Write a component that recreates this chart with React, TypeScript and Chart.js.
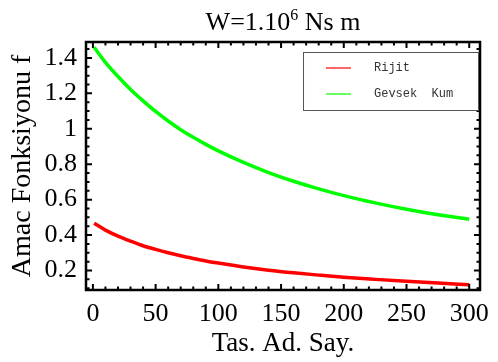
import React, { useEffect, useRef } from 'react';
import { Chart, registerables } from 'chart.js';

Chart.register(...registerables);

const xValues = [1, 10, 20, 30, 40, 50, 60, 70, 80, 90, 100, 120, 140, 160, 180, 200, 225, 250, 275, 300];
const rijitValues = [0.467, 0.428, 0.394, 0.366, 0.34, 0.319, 0.3, 0.283, 0.268, 0.254, 0.242, 0.22, 0.202, 0.187, 0.174, 0.162, 0.15, 0.139, 0.129, 0.12];
const gevsekValues = [1.46, 1.375, 1.295, 1.222, 1.158, 1.098, 1.044, 0.995, 0.952, 0.912, 0.875, 0.81, 0.753, 0.704, 0.661, 0.623, 0.582, 0.546, 0.515, 0.49];
const seriesLabels = ['Rijit', 'Gevsek  Kum'];
const seriesColors = ['#ff0000', '#00ff00'];
const xTicks = [0, 50, 100, 150, 200, 250, 300];
const yTicks = [0.2, 0.4, 0.6, 0.8, 1, 1.2, 1.4];
const yTickLabels = ['0.2', '0.4', '0.6', '0.8', '1', '1.2', '1.4'];
const titleMain = 'W=1.10';
const titleSup = '6';
const titleRest = ' Ns m';
const xTitle = 'Tas. Ad. Say.';
const yTitle = 'Amac Fonksiyonu f';

const SERIF = '"Liberation Serif", "Times New Roman", serif';

const framePlugin = {
  id: 'frame',
  afterDatasetsDraw(chart: any) {
    const { ctx, chartArea, scales } = chart;
    const { left, right, top, bottom } = chartArea;
    const xs = scales.x;
    const ys = scales.y;
    ctx.save();
    ctx.strokeStyle = '#000';
    ctx.lineWidth = 2;
    const xStep = (xTicks[1] - xTicks[0]) / 5;
    for (let i = -5; i <= (xTicks.length - 1) * 5 + 5; i++) {
      const v = xTicks[0] + i * xStep;
      if (v < xs.min || v > xs.max) continue;
      const px = xs.getPixelForValue(v);
      const len = i % 5 === 0 ? 6 : 3.5;
      ctx.beginPath();
      ctx.moveTo(px, bottom);
      ctx.lineTo(px, bottom - len);
      ctx.moveTo(px, top);
      ctx.lineTo(px, top + len);
      ctx.stroke();
    }
    const yStep = (yTicks[1] - yTicks[0]) / 4;
    for (let i = -4; i <= (yTicks.length - 1) * 4 + 4; i++) {
      const v = yTicks[0] + i * yStep;
      if (v < ys.min || v > ys.max) continue;
      const py = ys.getPixelForValue(v);
      const len = i % 4 === 0 ? 6 : 3.5;
      ctx.beginPath();
      ctx.moveTo(left, py);
      ctx.lineTo(left + len, py);
      ctx.moveTo(right, py);
      ctx.lineTo(right - len, py);
      ctx.stroke();
    }
    ctx.lineWidth = 2.5;
    ctx.strokeRect(left, top, right - left, bottom - top);

    // legend
    const bw = 175;
    const bh = 58;
    const bx = right - bw - 2;
    const by = top + 10;
    ctx.fillStyle = '#fff';
    ctx.fillRect(bx, by, bw, bh);
    ctx.lineWidth = 1;
    ctx.strokeStyle = '#555';
    ctx.strokeRect(bx + 0.5, by + 0.5, bw, bh);
    ctx.font = '12px "Liberation Mono", "Courier New", monospace';
    ctx.textBaseline = 'middle';
    ctx.textAlign = 'left';
    chart.data.datasets.forEach((ds: any, i: number) => {
      const ry = by + 16 + i * 26;
      ctx.strokeStyle = ds.borderColor;
      ctx.lineWidth = 1.2;
      ctx.beginPath();
      ctx.moveTo(bx + 23, ry);
      ctx.lineTo(bx + 48, ry);
      ctx.stroke();
      ctx.fillStyle = '#333';
      ctx.fillText(ds.label, bx + 71, ry);
    });

    // title
    const cx = (left + right) / 2;
    ctx.fillStyle = '#000';
    ctx.textBaseline = 'alphabetic';
    const mainFont = '26px ' + SERIF;
    const supFont = '16px ' + SERIF;
    ctx.font = mainFont;
    const w1 = ctx.measureText(titleMain).width;
    const w3 = ctx.measureText(titleRest).width;
    ctx.font = supFont;
    const w2 = ctx.measureText(titleSup).width;
    const total = w1 + w2 + w3;
    let tx = cx - total / 2;
    const baseY = 30;
    ctx.font = mainFont;
    ctx.fillText(titleMain, tx, baseY);
    tx += w1;
    ctx.font = supFont;
    ctx.fillText(titleSup, tx, baseY - 10);
    tx += w2;
    ctx.font = mainFont;
    ctx.fillText(titleRest, tx, baseY);
    ctx.restore();
  },
};

export default function App() {
  const ref = useRef<HTMLCanvasElement | null>(null);
  useEffect(() => {
    if (!ref.current) return;
    const chart = new Chart(ref.current, {
      type: 'line',
      data: {
        datasets: [
          {
            label: seriesLabels[0],
            data: xValues.map((x, i) => ({ x, y: rijitValues[i] })),
            borderColor: seriesColors[0],
            backgroundColor: seriesColors[0],
            borderWidth: 3.5,
            pointRadius: 0,
            cubicInterpolationMode: 'monotone',
            fill: false,
          },
          {
            label: seriesLabels[1],
            data: xValues.map((x, i) => ({ x, y: gevsekValues[i] })),
            borderColor: seriesColors[1],
            backgroundColor: seriesColors[1],
            borderWidth: 3.5,
            pointRadius: 0,
            cubicInterpolationMode: 'monotone',
            fill: false,
          },
        ],
      },
      options: {
        animation: false,
        responsive: false,
        maintainAspectRatio: false,
        layout: { padding: { left: 0, right: 10, top: 42, bottom: 0 } },
        plugins: {
          legend: { display: false },
          title: { display: false },
          tooltip: { enabled: false },
        },
        scales: {
          x: {
            type: 'linear',
            min: -5.5,
            max: 308.6,
            grid: { display: false, drawTicks: false },
            border: { display: false },
            afterFit: (s: any) => { s.height = 72; },
            afterBuildTicks: (s: any) => { s.ticks = xTicks.map((v) => ({ value: v })); },
            ticks: {
              padding: 9,
              color: '#000',
              font: { family: SERIF, size: 26 },
              maxRotation: 0,
              callback: (v: any) => String(v),
            },
            title: {
              display: true,
              text: xTitle,
              color: '#000',
              font: { family: SERIF, size: 27 },
              padding: { top: 0, bottom: 2 },
            },
          },
          y: {
            type: 'linear',
            min: 0.09,
            max: 1.49,
            grid: { display: false, drawTicks: false },
            border: { display: false },
            afterFit: (s: any) => { s.width = 86; },
            afterBuildTicks: (s: any) => { s.ticks = yTicks.map((v) => ({ value: v })); },
            ticks: {
              padding: 9,
              color: '#000',
              font: { family: SERIF, size: 26 },
              callback: (v: any) => {
                const idx = yTicks.findIndex((t) => Math.abs(t - v) < 1e-9);
                return idx >= 0 ? yTickLabels[idx] : '';
              },
            },
            title: {
              display: true,
              text: yTitle,
              color: '#000',
              font: { family: SERIF, size: 28 },
              padding: { top: 6, bottom: 0 },
            },
          },
        },
      },
      plugins: [framePlugin],
    } as any);
    return () => chart.destroy();
  }, []);
  return (
    <div style={{ position: 'fixed', left: 0, top: 0, width: 498, height: 362, background: '#fff' }}>
      <canvas ref={ref} width={498} height={362} style={{ width: 498, height: 362, display: 'block' }} />
    </div>
  );
}
